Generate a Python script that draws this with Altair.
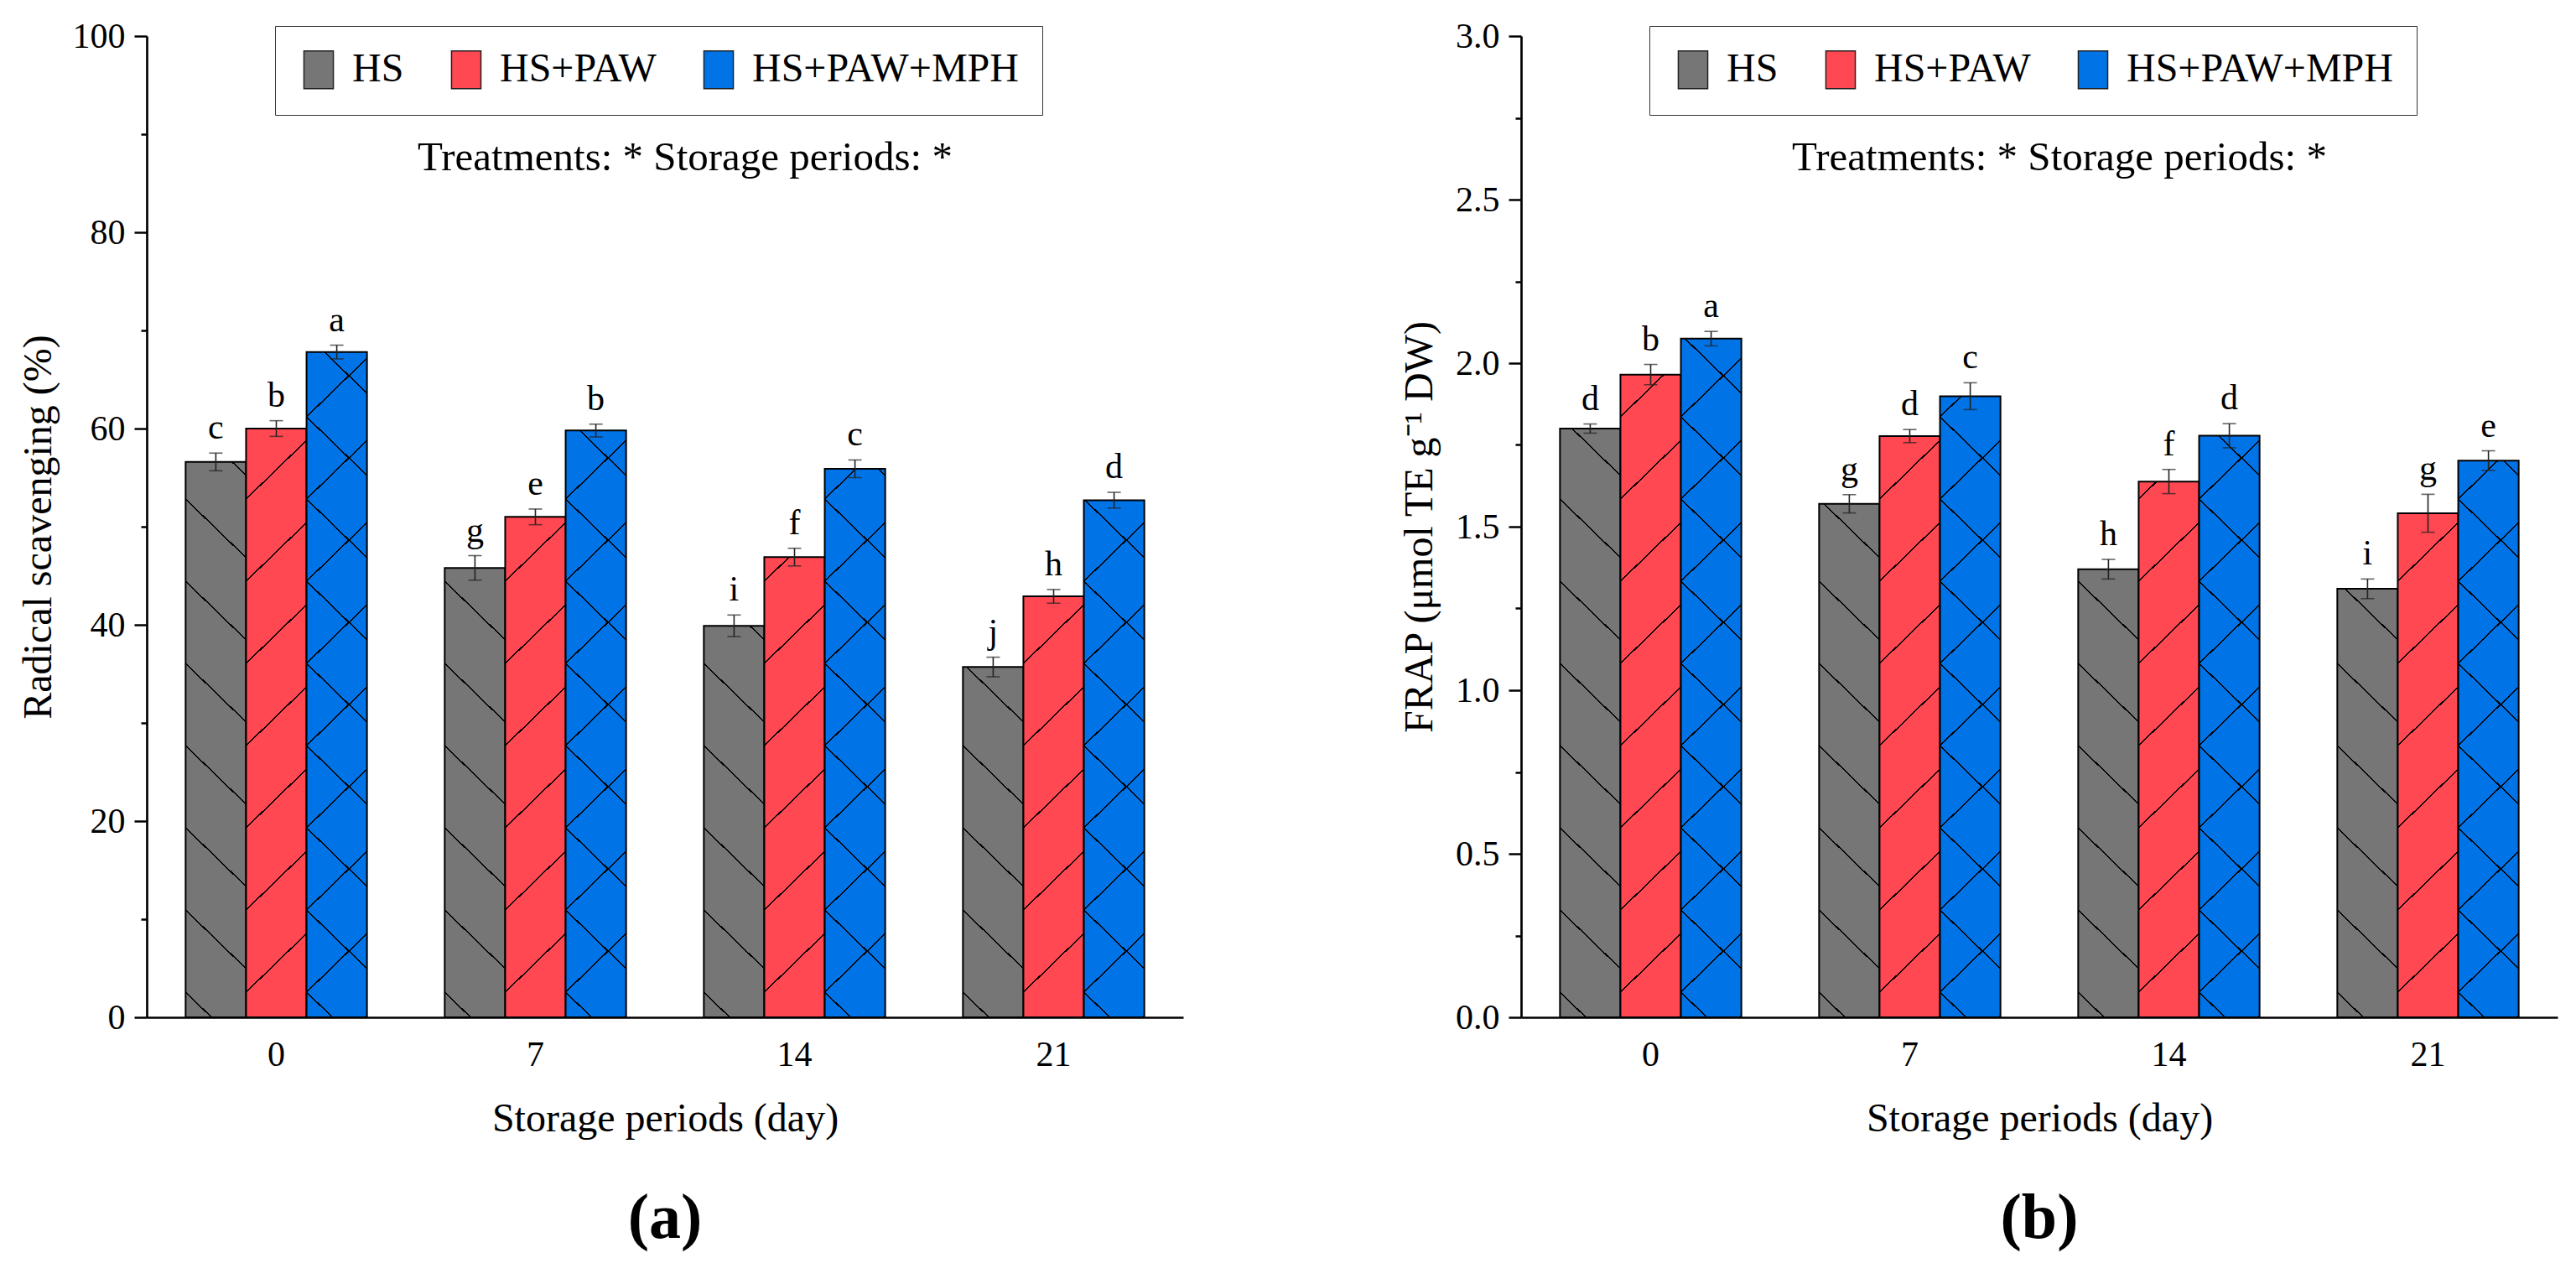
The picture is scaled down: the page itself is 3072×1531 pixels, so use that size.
import math
import altair as alt
import pandas as pd

FONT = "Liberation Serif"

days = ["0", "7", "14", "21"]
treatments = ["HS", "HS+PAW", "HS+PAW+MPH"]
colors = ["#767676", "#FF4851", "#0073E6"]

# (a) Radical scavenging (%)
rs_hs = [56.6, 45.8, 39.9, 35.7]
rs_paw = [60.0, 51.0, 46.9, 42.9]
rs_mph = [67.8, 59.8, 55.9, 52.7]
rs_err_hs = [0.9, 1.25, 1.1, 1.0]
rs_err_paw = [0.8, 0.8, 0.9, 0.7]
rs_err_mph = [0.7, 0.65, 0.9, 0.8]
rs_let_hs = ["c", "g", "i", "j"]
rs_let_paw = ["b", "e", "f", "h"]
rs_let_mph = ["a", "b", "c", "d"]

# (b) FRAP
frap_hs = [1.80, 1.57, 1.37, 1.31]
frap_paw = [1.965, 1.777, 1.638, 1.541]
frap_mph = [2.075, 1.899, 1.778, 1.702]
frap_err_hs = [0.014, 0.028, 0.03, 0.03]
frap_err_paw = [0.031, 0.02, 0.037, 0.058]
frap_err_mph = [0.022, 0.041, 0.037, 0.03]
frap_let_hs = ["d", "g", "h", "i"]
frap_let_paw = ["b", "d", "f", "g"]
frap_let_mph = ["a", "c", "d", "e"]

rs_ticks = [0, 10, 20, 30, 40, 50, 60, 70, 80, 90, 100]
frap_ticks = [0, 0.25, 0.5, 0.75, 1.0, 1.25, 1.5, 1.75, 2.0, 2.25, 2.5, 2.75, 3.0]

annotation = "Treatments: * Storage periods: *"
x_title = "Storage periods (day)"

W = 1236
H = 1170
P_IN, P_OUT = 0.3, 0.15
STEP = W / (len(days) - P_IN + 2 * P_OUT)
BAR_W = STEP * (1 - P_IN) / len(treatments)

HATCH_SLOPE = 0.97
HATCH_SPACING = 98.0
HATCH_PHASE = 30.0
HATCH_THICK = 1.5
hatch_dirs = {"HS": ["back"], "HS+PAW": ["fwd"], "HS+PAW+MPH": ["back", "fwd"]}


def hatch_gradient(w, h, direction):
    s = HATCH_SLOPE
    L = h + s * w
    alpha = L / (s * s * w * w + h * h)
    half = HATCH_THICK * math.sqrt(1 + s * s) / 2 / L
    if direction == "back":
        x1, y1, x2, y2 = 0, 1, alpha * s * w, 1 - alpha * h
        base = HATCH_PHASE
    else:
        x1, y1, x2, y2 = 0, 0, alpha * s * w, alpha * h
        base = (h - HATCH_PHASE) % HATCH_SPACING
    clear = "rgba(0,0,0,0)"
    stops = [{"offset": 0, "color": clear}]
    p = base
    while p < L:
        c = p / L
        a = max(c - half, 0.0)
        b = min(c + half, 1.0)
        if a > stops[-1]["offset"]:
            stops.append({"offset": a, "color": clear})
        stops.append({"offset": a, "color": "#000000"})
        stops.append({"offset": b, "color": "#000000"})
        stops.append({"offset": b, "color": clear})
        p += HATCH_SPACING
    stops.append({"offset": 1, "color": clear})
    return alt.LinearGradient(gradient="linear", x1=x1, y1=y1, x2=x2, y2=y2, stops=stops)


def panel(vals, errs, lets, ymax, ticks, major_test, label_expr, ytitle, plabel, title_pad):
    rows = []
    for ti, t in enumerate(treatments):
        for di, d in enumerate(days):
            v = vals[ti][di]
            e = errs[ti][di]
            rows.append(dict(day=d, treatment=t, value=v, lo=v - e, hi=v + e,
                             letter=lets[ti][di]))
    df = pd.DataFrame(rows)

    x_enc = alt.X("day:N", sort=days, title=x_title,
                  scale=alt.Scale(domain=days, paddingInner=P_IN, paddingOuter=P_OUT),
                  axis=alt.Axis(ticks=False, labelAngle=0, labelPadding=24,
                                titlePadding=32))
    xo_enc = alt.XOffset("treatment:N", sort=treatments,
                         scale=alt.Scale(domain=treatments, paddingInner=0, paddingOuter=0))
    y_scale = alt.Scale(domain=[0, ymax], nice=False, zero=True)
    y_axis = alt.Axis(values=ticks, labelExpr=label_expr,
                      tickSize={"condition": {"test": major_test, "value": 15}, "value": 7},
                      labelPadding=11, titlePadding=title_pad)

    def yenc(field):
        return alt.Y(f"{field}:Q", scale=y_scale, axis=y_axis, title=ytitle)

    base = alt.Chart(df)
    bars = base.mark_bar(stroke="black", strokeWidth=2).encode(
        x=x_enc, xOffset=xo_enc, y=yenc("value"),
        color=alt.Color("treatment:N", sort=treatments,
                        scale=alt.Scale(domain=treatments, range=colors),
                        legend=alt.Legend(
                            orient="none", legendX=153, legendY=-12,
                            direction="horizontal", title=None,
                            strokeColor="#333333", padding=28,
                            symbolType="M-0.78,-1H0.78V1H-0.78Z", symbolSize=2025,
                            symbolStrokeColor="#222222", symbolStrokeWidth=1.5,
                            symbolOpacity=1, labelFont=FONT, labelFontSize=48,
                            labelColor="black", labelOffset=16, columnPadding=50,
                            labelLimit=600)),
    )

    layers = [bars]
    for ti, t in enumerate(treatments):
        for di, d in enumerate(days):
            h = vals[ti][di] / ymax * H
            for direction in hatch_dirs[t]:
                g = hatch_gradient(BAR_W, h, direction)
                layers.append(
                    base.transform_filter(
                        f"datum.day == '{d}' && datum.treatment == '{t}'"
                    ).mark_bar(fill=g, strokeWidth=0).encode(
                        x=x_enc, xOffset=xo_enc, y=yenc("value"))
                )

    err = base.mark_rule(color="#222222", strokeWidth=1.6).encode(
        x=x_enc, xOffset=xo_enc, y=yenc("lo"), y2="hi:Q")
    cap_lo = base.mark_tick(color="#222222", thickness=1.6, size=16).encode(
        x=x_enc, xOffset=xo_enc, y=yenc("lo"))
    cap_hi = base.mark_tick(color="#222222", thickness=1.6, size=16).encode(
        x=x_enc, xOffset=xo_enc, y=yenc("hi"))
    letters = base.mark_text(font=FONT, fontSize=42, baseline="bottom", dy=-8,
                             color="black").encode(
        x=x_enc, xOffset=xo_enc, y=yenc("hi"), text="letter:N")
    ann = alt.Chart(pd.DataFrame({"t": [annotation]})).mark_text(
        font=FONT, fontSize=49, color="black", baseline="alphabetic", align="center"
    ).encode(x=alt.value(642), y=alt.value(160), text="t:N")

    layers += [err, cap_lo, cap_hi, letters, ann]
    return alt.layer(*layers).properties(
        width=W, height=H,
        title=alt.TitleParams(plabel, orient="bottom", font=FONT, fontSize=76,
                              fontWeight="bold", offset=58, anchor="middle",
                              color="black"),
    )


left = panel([rs_hs, rs_paw, rs_mph], [rs_err_hs, rs_err_paw, rs_err_mph],
             [rs_let_hs, rs_let_paw, rs_let_mph], 100, rs_ticks,
             "datum.value % 20 === 0",
             "datum.value % 20 === 0 ? datum.label : ''",
             "Radical scavenging (%)", "(a)", 16)

right = panel([frap_hs, frap_paw, frap_mph], [frap_err_hs, frap_err_paw, frap_err_mph],
              [frap_let_hs, frap_let_paw, frap_let_mph], 3.0, frap_ticks,
              "abs(datum.value * 2 - round(datum.value * 2)) < 0.000001",
              "abs(datum.value * 2 - round(datum.value * 2)) < 0.000001 ? format(datum.value, '.1f') : ''",
              "FRAP (\u03bcmol TE g\u207b\u00b9 DW)", "(b)", 18)

chart = alt.hconcat(left, right, spacing=258).resolve_scale(
    color="independent"
).resolve_legend(color="independent").properties(
    padding={"left": 14, "top": 14, "right": 5, "bottom": 5},
    background="white",
).configure_view(stroke=None).configure_axis(
    domainColor="black", domainWidth=2.7, tickColor="black", tickWidth=2.5,
    labelFont=FONT, labelFontSize=42, labelColor="black",
    titleFont=FONT, titleFontSize=48, titleFontWeight="normal", titleColor="black",
    grid=False,
)

chart.save("out.html", embed_options={"renderer": "svg", "actions": False})
